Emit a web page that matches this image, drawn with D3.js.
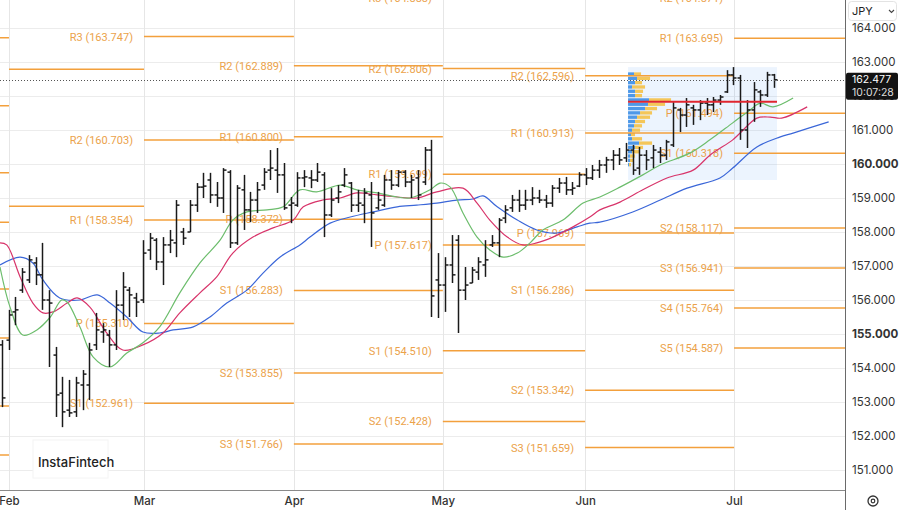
<!DOCTYPE html>
<html>
<head>
<meta charset="utf-8">
<script src="https://cdn.jsdelivr.net/npm/d3@7"></script>
<style>
html, body { margin: 0; padding: 0; background: #fff; }
svg { display: block; font-family: Inter, "Noto Sans", sans-serif; }
</style>
</head>
<body>
<svg id="chart" width="900" height="510"></svg>
<script>
// daily OHLC bars (bar index 0 = first visible bar)
var opens = [154.68,154.82,155.65,156.29,156.59,157.09,156.74,156.00,154.38,153.26,
  152.76,152.71,153.50,153.50,154.68,155.06,154.97,154.68,155.85,156.29,
  156.06,156.00,157.47,157.76,157.12,157.62,157.68,158.00,158.00,158.79,
  159.32,159.53,159.09,159.00,159.76,157.68,159.24,158.65,158.94,159.38,
  159.82,159.82,159.68,158.79,158.79,159.59,159.59,159.53,159.68,158.50,
  159.00,159.38,159.44,158.79,158.79,159.09,158.71,158.79,159.53,159.38,
  159.76,159.47,159.59,159.47,160.41,156.59,156.44,157.03,157.76,156.29,
  156.50,156.82,157.03,157.62,157.68,158.41,158.71,158.94,158.79,158.94,
  159.00,158.94,158.85,159.29,159.44,159.24,159.35,159.68,159.59,159.82,
  159.97,160.12,160.26,160.18,160.41,159.88,160.26,160.18,160.35,160.26,
  160.56,161.59,161.44,161.65,161.59,161.79,161.74,161.88,162.12,162.62,
  162.53,161.00,161.59,162.12,162.03,162.62];
var highs = [154.82,155.71,156.09,156.94,157.32,157.26,157.68,156.29,154.62,153.74,
  153.65,153.74,153.94,154.74,155.62,155.32,155.12,156.29,156.82,156.38,
  156.21,157.76,157.97,157.82,157.85,158.06,158.94,158.12,158.94,159.44,
  159.74,159.74,159.47,159.88,159.82,159.38,159.68,159.18,159.47,159.88,
  160.41,160.47,160.03,159.03,159.76,159.82,159.82,160.03,159.76,159.29,
  159.38,159.88,159.47,159.24,159.29,159.47,159.18,159.68,159.82,159.82,
  159.82,159.68,159.82,160.50,160.71,157.38,157.26,157.91,157.91,156.97,
  156.97,157.26,157.76,157.91,158.41,158.79,159.09,159.24,159.24,159.32,
  159.24,159.09,159.38,159.59,159.62,159.47,159.76,159.88,159.97,160.12,
  160.21,160.41,160.47,160.62,160.56,160.50,160.41,160.56,160.50,160.71,
  161.82,161.65,161.94,161.74,161.88,161.94,161.97,162.03,162.76,162.85,
  162.62,161.88,162.41,162.18,162.71,162.65];
var lows = [152.85,154.53,155.26,156.21,156.50,156.44,155.71,154.03,152.56,152.26,
  152.56,152.56,152.76,153.06,154.53,154.74,154.03,154.53,155.41,155.50,
  155.50,155.91,157.18,156.88,156.44,157.38,157.26,157.62,158.00,158.59,
  159.00,158.85,158.74,158.56,157.53,157.62,158.06,158.29,158.56,159.24,
  159.53,159.15,158.65,158.26,158.74,159.32,159.29,159.47,157.85,158.44,
  158.85,159.32,158.59,158.59,158.26,157.56,158.65,158.74,159.24,159.32,
  159.32,159.00,158.94,159.38,155.50,155.47,155.65,156.50,155.03,156.00,
  156.50,156.59,156.68,157.56,157.26,158.26,158.59,158.59,158.65,158.79,
  158.85,158.71,158.74,159.15,159.09,159.09,159.32,159.38,159.53,159.59,
  159.74,159.82,159.97,160.06,159.68,159.68,159.82,159.88,160.03,160.12,
  160.50,160.94,161.09,161.15,161.29,161.44,161.53,161.74,162.09,162.32,
  160.71,160.47,161.24,161.68,161.97,162.24];
var closes = [153.12,155.56,155.71,156.82,157.18,156.74,156.00,155.91,153.21,152.71,
  152.68,153.56,153.82,154.53,155.12,155.12,154.68,155.85,156.38,156.15,
  155.94,157.38,157.82,157.12,157.62,157.76,158.79,157.82,158.79,159.32,
  159.35,159.09,159.00,159.82,157.68,159.29,158.65,158.94,159.24,159.76,
  159.88,159.68,158.71,158.85,159.59,159.62,159.53,159.76,158.50,158.94,
  159.18,159.68,158.79,158.85,159.15,158.56,158.94,159.53,159.38,159.76,
  159.47,159.53,159.09,160.41,156.12,156.44,157.03,156.74,156.29,156.44,
  156.88,157.12,157.18,157.68,158.35,158.65,158.94,158.79,158.94,159.00,
  158.94,158.85,159.29,159.44,159.24,159.29,159.68,159.59,159.82,159.97,
  160.12,160.26,160.12,160.41,159.82,160.26,160.12,160.41,160.26,160.65,
  161.65,161.44,161.74,161.59,161.79,161.74,161.88,161.97,162.62,162.53,
  161.00,161.59,162.18,162.03,162.62,162.477];

var lastPrice = 162.477;
var countdown = "10:07:28";

// month labels on the time axis (position in bar units)
var monthNames = ["Feb", "Mar", "Apr", "May", "Jun", "Jul"];
var monthIdx = [1.04, 21.16, 43.5, 65.7, 86.9, 109.1];

var priceTicks = [151, 152, 153, 154, 155, 156, 157, 158, 159, 160, 161, 162, 163, 164];

// moving averages (bar index, value)
var maFastIdx = [-0.3,1.2,3.1,5.2,7.2,8.9,9.7,11.6,13.6,16.1,18.6,21.0,23.5,26.5,29.5,32.5,34.4,36.5,39.5,41.9,
  44.4,46.9,50.4,52.9,55.9,58.9,60.8,63.8,65.3,66.8,68.7,70.8,72.7,74.7,76.8,78.7,80.6,83.6,86.6,89.1,
  92.1,95.5,98.1,102.5,105.5,108.9,111.5,113.0,114.9,117.9];
var maFastVal = [156.97,155.79,154.97,155.12,155.50,156.00,155.94,155.21,154.32,154.03,154.44,154.74,155.21,156.21,157.09,157.76,158.35,158.59,158.65,158.74,
  159.24,159.18,159.38,159.24,159.15,159.03,159.00,159.24,159.44,159.32,158.56,157.85,157.47,157.26,157.38,157.68,158.06,158.35,158.85,159.03,
  159.32,159.68,159.97,160.32,160.71,161.21,161.59,161.79,161.68,161.94];
var maMidIdx = [-0.3,0.7,2.7,4.6,6.1,7.6,9.7,11.2,13.1,15.6,18.0,21.0,24.0,26.5,29.5,32.0,34.4,37.4,40.4,43.4,
  44.9,47.8,50.4,52.9,55.9,58.9,61.8,64.8,68.7,70.8,72.7,75.3,77.6,79.7,82.1,85.1,87.6,89.1,92.1,95.5,
  99.1,103.0,105.5,108.9,110.0,112.5,114.5,116.2,120.0];
var maMidVal = [157.68,157.62,156.68,155.91,155.62,155.65,155.91,156.06,155.79,155.03,154.53,154.68,155.03,155.62,156.21,156.68,157.38,157.85,158.12,158.35,
  158.74,158.94,159.00,159.15,159.09,159.03,159.00,159.18,159.29,158.85,158.35,157.85,157.62,157.68,157.85,158.15,158.44,158.65,158.88,159.24,
  159.59,159.82,160.26,160.71,160.91,161.35,161.38,161.35,161.68];
var maSlowIdx = [-0.3,2.7,4.6,6.1,8.6,11.6,14.2,16.1,18.6,21.0,23.5,25.5,28.5,31.0,33.5,36.5,38.9,41.4,44.4,45.9,
  48.9,51.9,55.3,58.9,61.8,64.8,67.8,70.2,71.7,73.8,76.8,79.7,82.7,85.7,87.6,89.1,94.0,98.1,102.1,107.0,
  108.9,112.5,115.9,117.9,123.2];
var maSlowVal = [157.03,157.26,157.09,156.59,156.06,156.00,156.15,155.91,155.50,155.06,155.03,155.12,155.21,155.50,155.91,156.29,156.79,157.26,157.62,157.85,
  158.26,158.44,158.59,158.74,158.79,158.85,158.94,158.97,159.06,158.74,158.35,158.06,157.97,158.15,158.26,158.29,158.59,158.94,159.29,159.59,
  159.88,160.50,160.79,160.91,161.24];

// monthly pivot levels (Jan / Feb labels sit left of the visible area)
var pivJan = [["R3",163.71],["R2",161.71],["R1",159.74],["P",158.29],["S1",156.32],["S2",154.88],["S3",152.88],["S4",151.44]];
var pivFeb = [["R3",162.79],["R2",158.76]];
var pivMar = [["R3",163.747],["R2",160.703],["R1",158.354],["P",155.310],["S1",152.961]];
var pivApr = [["R2",162.889],["R1",160.800],["P",158.372],["S1",156.283],["S2",153.855],["S3",151.766]];
var pivMay = [["R3",164.888],["R2",162.806],["R1",159.699],["P",157.617],["S1",154.510],["S2",152.428]];
var pivJun = [["R2",162.596],["R1",160.913],["P",157.969],["S1",156.286],["S2",153.342],["S3",151.659]];
var pivJul = [["R2",164.871],["R1",163.695],["P",161.494],["S1",160.318],["S2",158.117],["S3",156.941],["S4",155.764],["S5",154.587]];

// volume profile (visible range), rows from top, up / down volume
var profUp   = [6, 9, 7, 4, 7, 7, 21, 20, 17, 12, 9, 7, 6, 4, 3, 4, 11, 7, 4, 2, 2, 1];
var profDown = [7, 13, 7, 13, 8, 7, 22, 17, 12, 12, 13, 10, 8, 8, 4, 10, 13, 8, 7, 5, 3, 2];
var profTop = 162.71, profStep = 0.127;
var profStartIdx = 93.3, profEndIdx = 115.5, profHigh = 162.85, profLow = 159.53, pocPrice = 161.83;

// ---- drawing ----
var W = 900, H = 510, plotR = 845, plotB = 490;
var svg = d3.select("#chart");

var x = d3.scaleLinear().domain([0, 115]).range([2, 773.65]);
var y = d3.scaleLinear().domain([151, 164]).range([470, 28]);

svg.append("defs").append("clipPath").attr("id", "plotclip")
  .append("rect").attr("x", 0).attr("y", 0).attr("width", plotR).attr("height", plotB);

var plot = svg.append("g").attr("clip-path", "url(#plotclip)");

// grid
plot.selectAll(".hgrid").data(priceTicks).enter().append("line")
  .attr("x1", 0).attr("x2", plotR)
  .attr("y1", function(d) { return Math.round(y(d)) + 0.5; })
  .attr("y2", function(d) { return Math.round(y(d)) + 0.5; })
  .style("stroke", "#ececec").style("stroke-width", 1);
plot.selectAll(".vgrid").data(monthIdx).enter().append("line")
  .attr("y1", 0).attr("y2", plotB)
  .attr("x1", function(d) { return Math.round(x(d)) + 0.5; })
  .attr("x2", function(d) { return Math.round(x(d)) + 0.5; })
  .style("stroke", "#e6e6e6").style("stroke-width", 1);

// volume profile box + rows
var vp = plot.append("g");
vp.append("rect")
  .attr("x", x(profStartIdx)).attr("y", y(profHigh))
  .attr("width", x(profEndIdx) - x(profStartIdx)).attr("height", y(profLow) - y(profHigh))
  .style("fill", "rgba(66,150,243,0.10)");
var vscale = d3.scaleLinear().domain([0, 43]).range([0, 43]);
var rows = profUp.map(function(u, i) { return {up: u, down: profDown[i], top: profTop - i * profStep}; });
var rowH = y(profTop - profStep) - y(profTop);
vp.selectAll(".vup").data(rows).enter().append("rect")
  .attr("x", x(profStartIdx))
  .attr("y", function(d) { return y(d.top) + 0.5; })
  .attr("width", function(d) { return vscale(d.up); })
  .attr("height", rowH - 1)
  .style("fill", "#3d8ee6").style("opacity", 0.9);
vp.selectAll(".vdn").data(rows).enter().append("rect")
  .attr("x", function(d) { return x(profStartIdx) + vscale(d.up); })
  .attr("y", function(d) { return y(d.top) + 0.5; })
  .attr("width", function(d) { return vscale(d.down); })
  .attr("height", rowH - 1)
  .style("fill", "#f5c146").style("opacity", 0.9);

// pivot segments
var pivSets = [pivJan, pivFeb, pivMar, pivApr, pivMay, pivJun, pivJul];
var segStart = [-10].concat(monthIdx);
var segEnd = monthIdx.concat([130]);
pivSets.forEach(function(set, s) {
  var g = plot.append("g");
  g.selectAll("line").data(set).enter().append("line")
    .attr("x1", x(segStart[s])).attr("x2", x(segEnd[s]))
    .attr("y1", function(d) { return y(d[1]); })
    .attr("y2", function(d) { return y(d[1]); })
    .style("stroke", "#f3a03c").style("stroke-width", 1.5);
  // labels sit right-aligned just before the segment; skip those left of the chart
  if (x(segStart[s]) - 11 < 60) return;
  g.selectAll("text").data(set).enter().append("text")
    .attr("x", x(segStart[s]) - 11)
    .attr("y", function(d) { return y(d[1]); })
    .attr("dy", "0.36em")
    .attr("text-anchor", "end")
    .style("font-family", "Roboto, 'Noto Sans', sans-serif")
    .style("font-size", "11px")
    .style("fill", "#eba24a")
    .text(function(d) { return d[0] + " (" + d[1].toFixed(3) + ")"; });
});

// moving averages
function maLine(idx, val, color) {
  var pts = idx.map(function(d, i) { return [d, val[i]]; });
  var line = d3.line()
    .x(function(d) { return x(d[0]); })
    .y(function(d) { return y(d[1]); })
    .curve(d3.curveCatmullRom.alpha(0.5));
  plot.append("path").datum(pts).attr("d", line)
    .style("fill", "none").style("stroke", color).style("stroke-width", 1.2);
}
maLine(maSlowIdx, maSlowVal, "#3a66d8");
maLine(maMidIdx, maMidVal, "#d8346a");
maLine(maFastIdx, maFastVal, "#6cbd6c");

// OHLC bars
var bars = opens.map(function(o, i) { return {i: i, o: o, h: highs[i], l: lows[i], c: closes[i]}; });
var bg = plot.append("g").style("stroke", "#1a1a1a").style("stroke-width", 1.5);
bars.forEach(function(b) {
  var cx = Math.round(x(b.i)) + 0.5;
  bg.append("line").attr("x1", cx).attr("x2", cx).attr("y1", y(b.h)).attr("y2", y(b.l));
  bg.append("line").attr("x1", cx - 3).attr("x2", cx).attr("y1", y(b.o)).attr("y2", y(b.o));
  bg.append("line").attr("x1", cx).attr("x2", cx + 3).attr("y1", y(b.c)).attr("y2", y(b.c));
});

// point of control
plot.append("line")
  .attr("x1", x(profStartIdx)).attr("x2", x(profEndIdx))
  .attr("y1", y(pocPrice)).attr("y2", y(pocPrice))
  .style("stroke", "#e0262f").style("stroke-width", 2);

// last price dotted line
plot.append("line")
  .attr("x1", 0).attr("x2", plotR)
  .attr("y1", Math.round(y(lastPrice)) + 0.5).attr("y2", Math.round(y(lastPrice)) + 0.5)
  .style("stroke", "#555").style("stroke-width", 1).style("stroke-dasharray", "1,2");

// watermark
svg.append("rect").attr("x", 33).attr("y", 440).attr("width", 75).attr("height", 38)
  .style("fill", "#fff").style("stroke", "#f4f4f4");
svg.append("text").attr("x", 38).attr("y", 467)
  .style("font-size", "13px").style("fill", "#222").style("font-weight", 500)
  .text("InstaFintech");

// price axis
var yAxis = d3.axisRight(y).tickValues(priceTicks).tickFormat(d3.format(".3f")).tickSize(0).tickPadding(7);
var ya = svg.append("g").attr("transform", "translate(" + plotR + ",0)").call(yAxis);
ya.select(".domain").remove();
ya.selectAll("text").style("font-size", "11.5px").style("fill", "#333")
  .style("font-family", "Inter, 'Noto Sans', sans-serif")
  .style("font-weight", function(d) { return d % 5 === 0 ? 700 : 400; });
svg.append("line").attr("x1", plotR + 0.5).attr("x2", plotR + 0.5).attr("y1", 0).attr("y2", H)
  .style("stroke", "#6a6a6a").style("stroke-width", 1);

// time axis
var xAxis = d3.axisBottom(x).tickValues(monthIdx)
  .tickFormat(function(d, i) { return monthNames[i]; }).tickSize(0).tickPadding(7);
var xa = svg.append("g").attr("transform", "translate(0," + plotB + ")").call(xAxis);
xa.select(".domain").remove();
xa.selectAll("text").style("font-size", "11.5px").style("fill", "#333").style("font-weight", 500)
  .style("font-family", "Inter, 'Noto Sans', sans-serif");
svg.append("line").attr("x1", 0).attr("x2", plotR).attr("y1", plotB + 0.5).attr("y2", plotB + 0.5)
  .style("stroke", "#8a8a8a").style("stroke-width", 1);

// last price tag
var tagY = y(lastPrice);
svg.append("rect").attr("x", plotR + 1).attr("y", tagY - 7).attr("width", 52).attr("height", 27)
  .attr("rx", 2).style("fill", "#131313");
svg.append("text").attr("x", plotR + 7).attr("y", tagY + 3.5)
  .style("font-size", "10.5px").style("fill", "#fff").text(lastPrice.toFixed(3));
svg.append("text").attr("x", plotR + 7).attr("y", tagY + 16.5)
  .style("font-size", "10.5px").style("fill", "#ddd").text(countdown);

// currency selector
svg.append("rect").attr("x", 848.5).attr("y", 1.5).attr("width", 48).attr("height", 19).attr("rx", 3)
  .style("fill", "#fff").style("stroke", "#e3e3e3");
svg.append("text").attr("x", 852).attr("y", 15).style("font-size", "11px").style("fill", "#222").text("JPY");
svg.append("path").attr("d", "M889,10 l2.5,2.5 l2.5,-2.5")
  .style("fill", "none").style("stroke", "#444").style("stroke-width", 1.1);

// settings icon
svg.append("circle").attr("cx", 873).attr("cy", 501).attr("r", 5)
  .style("fill", "none").style("stroke", "#333").style("stroke-width", 1.3);
svg.append("circle").attr("cx", 873).attr("cy", 501).attr("r", 1.8)
  .style("fill", "none").style("stroke", "#333").style("stroke-width", 1.2);
</script>
</body>
</html>
